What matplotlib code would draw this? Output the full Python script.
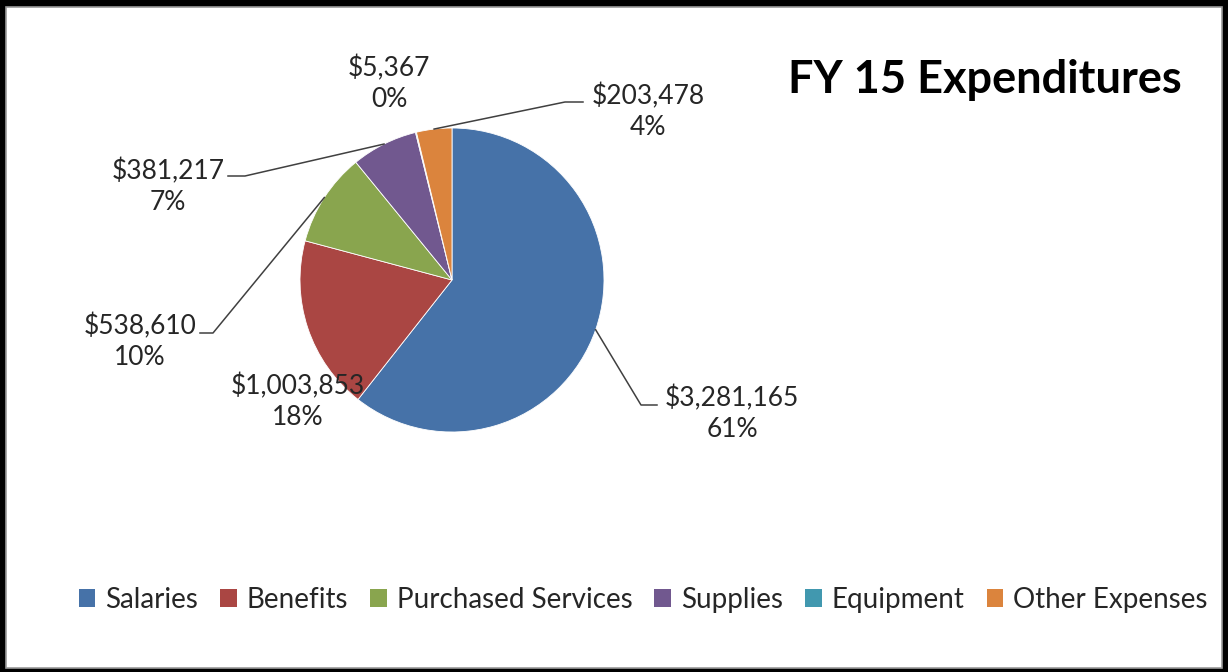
import numpy as np
import matplotlib
matplotlib.use("Agg")
import matplotlib.pyplot as plt
from matplotlib.patches import Rectangle

plt.rcParams['font.family'] = ['Lato', 'DejaVu Sans']

categories = ['Salaries', 'Benefits', 'Purchased Services', 'Supplies', 'Equipment', 'Other Expenses']
amounts = [3281165, 1003853, 538610, 381217, 5367, 203478]
pct_labels = ['61%', '18%', '10%', '7%', '0%', '4%']
colors = ['#4672A8', '#AA4643', '#89A54E', '#71588F', '#4198AF', '#DB843D']

W, H = 1228, 672
fig = plt.figure(figsize=(W / 100, H / 100), dpi=100)
ax = fig.add_axes([0, 0, 1, 1])

# frame: black outside, white chart area
ax.add_patch(Rectangle((0, 0), W, H, facecolor='black', edgecolor='none', zorder=0))
ax.add_patch(Rectangle((6, 4), 1216, 661, facecolor='white', edgecolor='#9a9a9a', lw=1.2, zorder=0.5))

cx, cy, r = 452, H - 280, 152
wedges, _ = ax.pie(amounts, colors=colors, startangle=90, counterclock=False,
                   center=(cx, cy), radius=r, frame=True,
                   wedgeprops=dict(edgecolor='white', linewidth=0.6))
ax.set_xlim(0, W)
ax.set_ylim(0, H)
ax.set_aspect('equal')
ax.axis('off')

# label text positions (image pixels) and leader elbows
text_pos = {0: (732, 397), 1: (298, 385), 2: (140, 325), 3: (168, 170), 4: (389, 67), 5: (648, 95)}
elbows = {0: [(641, 405), (657, 405)],
          2: [(213, 333), (200, 333)],
          3: [(245, 176), (228, 176)],
          5: [(565, 102), (583, 102)]}

for i, w in enumerate(wedges):
    mid = np.deg2rad((w.theta1 + w.theta2) / 2)
    if i in elbows:
        px, py = cx + r * np.cos(mid), cy + r * np.sin(mid)
        xs = [px] + [e[0] for e in elbows[i]]
        ys = [py] + [H - e[1] for e in elbows[i]]
        ax.plot(xs, ys, color='#404040', lw=1.1, zorder=3)
    tx, ty = text_pos[i]
    ax.text(tx, H - ty - 16.5, f'${amounts[i]:,}\n{pct_labels[i]}', ha='center', va='center',
            fontsize=19, color='#262626', linespacing=1.25, zorder=4)

ax.text(985, H - 80, 'FY 15 Expenditures', ha='center', va='center',
        fontsize=32.5, fontweight='bold', color='black')

handles = [Rectangle((0, 0), 1, 1, facecolor=c, edgecolor='none') for c in colors]
fig.legend(handles, categories, loc='center', bbox_to_anchor=(643 / W, 1 - 600 / H),
           ncol=6, frameon=False, fontsize=20, handlelength=0.6, handleheight=0.6,
           handletextpad=0.35, columnspacing=0.8, labelcolor='#262626')

fig.savefig('out.png', dpi=100)
